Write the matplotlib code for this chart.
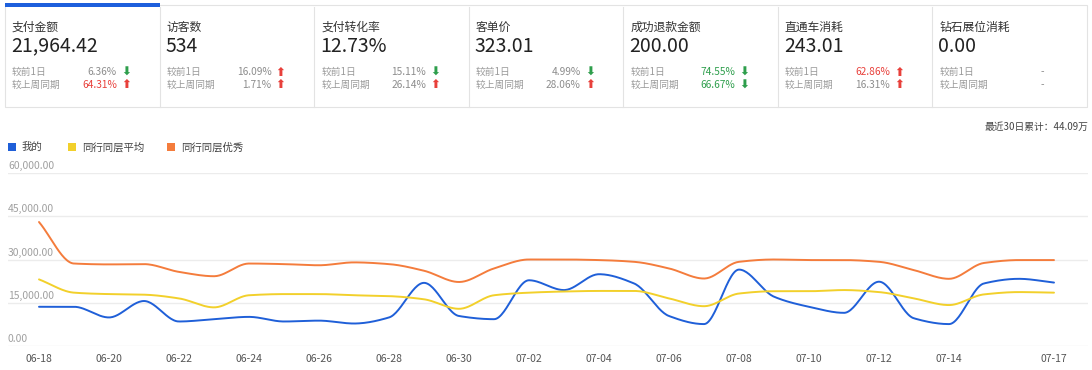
import numpy as np
import pandas as pd
import matplotlib
matplotlib.use('Agg')
import matplotlib.pyplot as plt
from matplotlib.patches import Rectangle
from matplotlib.lines import Line2D
from matplotlib.transforms import offset_copy

plt.rcParams['font.family'] = ['Noto Sans CJK SC', 'DejaVu Sans']

# ---- KPI cards ----
card_titles = ['支付金额', '访客数', '支付转化率', '客单价', '成功退款金额', '直通车消耗', '钻石展位消耗']
card_values = ['21,964.42', '534', '12.73%', '323.01', '200.00', '243.01', '0.00']
day_pct = ['6.36%', '16.09%', '15.11%', '4.99%', '74.55%', '62.86%', '-']
week_pct = ['64.31%', '1.71%', '26.14%', '28.06%', '66.67%', '16.31%', '-']
day_trend = [-1, 1, -1, -1, -1, 1, 0]
week_trend = [1, 1, 1, 1, -1, 1, 0]
day_hl = [False, False, False, False, True, True, False]
week_hl = [True, False, False, False, True, False, False]

# ---- trend chart (30 days from 06-18) ----
dates = pd.date_range('2019-06-18', periods=30).strftime('%m-%d').tolist()
mine = [13600, 13600, 9900, 15600, 8500, 9300, 10100, 8500, 8800, 7800,
        9900, 21900, 10400, 9300, 22800, 19400, 24900, 21700, 10400, 7600,
        26500, 17100, 13600, 11500, 22300, 9600, 7600, 21700, 23300, 22000]
peer_avg = [23100, 18500, 18000, 17800, 16500, 13400, 17600, 18000, 18000, 17600,
            17300, 16200, 12900, 17600, 18500, 18900, 19100, 19100, 16500, 13800,
            18200, 19000, 19000, 19400, 18700, 16500, 14200, 17900, 18700, 18500]
peer_best = [43000, 28600, 28300, 28400, 25700, 24200, 28600, 28400, 28000, 29000,
             28400, 26100, 22200, 26900, 30000, 30000, 29800, 29200, 26900, 23400,
             29200, 30000, 29800, 29800, 29200, 26300, 23300, 28800, 29800, 29800]
series_names = ['我的', '同行同层平均', '同行同层优秀']
series_colors = ['#1f5fd8', '#f2d02b', '#f47c3c']
tick_idx = [0, 2, 4, 6, 8, 10, 12, 14, 16, 18, 20, 22, 24, 26, 29]
yticks = [0, 15000, 30000, 45000, 60000]
total_text = '最近30日累计：44.09万'

W, H = 1092, 370
RED, GREEN, GRAY = '#e8403b', '#2e9e4c', '#8c8c8c'


def px(x, y):
    return x / W, 1 - y / H


def smooth(y, xs):
    # monotone cubic (pchip) so the curve looks like the echarts smooth line
    y = np.asarray(y, float)
    x = np.arange(len(y), dtype=float)
    d = np.diff(y)
    m = np.zeros_like(y)
    for k in range(1, len(y) - 1):
        if d[k - 1] * d[k] > 0:
            m[k] = 2.0 / (1.0 / d[k - 1] + 1.0 / d[k])
    m[0], m[-1] = d[0], d[-1]
    i = np.clip(np.floor(xs).astype(int), 0, len(y) - 2)
    t = xs - x[i]
    h00 = 2 * t**3 - 3 * t**2 + 1
    h10 = t**3 - 2 * t**2 + t
    h01 = -2 * t**3 + 3 * t**2
    h11 = t**3 - t**2
    return h00 * y[i] + h10 * m[i] + h01 * y[i + 1] + h11 * m[i + 1]


fig = plt.figure(figsize=(W / 100, H / 100), dpi=100)

# card strip
fig.add_artist(Rectangle(px(5, 107), 1082 / W, 102 / H, transform=fig.transFigure,
                         fill=False, ec='#e3e3e3', lw=0.8))
card_w = 1082 / 7
for i in range(1, 7):
    cx = 5 + i * card_w
    fig.add_artist(Line2D([cx / W, cx / W], [1 - 7 / H, 1 - 107 / H],
                          transform=fig.transFigure, color='#e3e3e3', lw=0.8))
fig.add_artist(Rectangle(px(5, 7), card_w / W, 4 / H, transform=fig.transFigure,
                         fc='#1d5fdc', ec='none'))

for i in range(7):
    cx = 5 + i * card_w
    fig.text(*px(cx + 7, 27), card_titles[i], fontsize=8.5, color='#333333', va='center')
    fig.text(*px(cx + 6, 46), card_values[i], fontsize=14, color='#222222', va='center')
    rows = [('较前1日', day_pct[i], day_trend[i], day_hl[i], 72),
            ('较上周同期', week_pct[i], week_trend[i], week_hl[i], 85)]
    for label, pct, trend, hl, y in rows:
        fig.text(*px(cx + 7, y), label, fontsize=7, color='#9a9a9a', va='center')
        tc = RED if trend > 0 else GREEN
        fig.text(*px(cx + 112, y), pct, fontsize=7.3, va='center', ha='right',
                 color=tc if hl else GRAY)
        if trend != 0:
            fig.text(*px(cx + 121, y), '⬆' if trend > 0 else '⬇', fontsize=8.5,
                     va='center', ha='center', color=tc, family='DejaVu Sans',
                     fontweight='bold')

# legend + total
leg_x = [8, 68, 167]
for name, color, lx in zip(series_names, series_colors, leg_x):
    fig.add_artist(Rectangle(px(lx, 151), 8 / W, 8 / H, transform=fig.transFigure,
                             fc=color, ec='none'))
    fig.text(*px(lx + 14, 147), name, fontsize=7.5, color='#444444', va='center')
fig.text(*px(1088, 127), total_text, fontsize=7, color='#444444', va='center', ha='right')

# chart
ax = fig.add_axes([8 / W, (H - 346) / H, 1080 / W, 173 / H])
days = np.arange(len(dates))
xs = np.linspace(0, len(dates) - 1, 800)
for vals, color in zip([mine, peer_avg, peer_best], series_colors):
    ax.plot(xs, smooth(vals, xs), color=color, lw=1.4, solid_capstyle='round')

ax.set_xlim(-31 / 35, 1049 / 35)
ax.set_ylim(0, 60000)
ax.set_yticks(yticks)
ax.yaxis.grid(True, color='#ececec', lw=1)
ax.set_axisbelow(True)
ax.tick_params(axis='y', length=0, labelleft=False)
ax.set_xticks(tick_idx)
ax.set_xticklabels([dates[k] for k in tick_idx])
ax.tick_params(axis='x', length=0, pad=6, labelsize=7.5, labelcolor='#555555')
for s in ax.spines.values():
    s.set_visible(False)

ylab_tr = offset_copy(ax.get_yaxis_transform(), fig=fig, x=0, y=7, units='dots')
for v in yticks:
    ax.text(0, v, f'{v:,.2f}', transform=ylab_tr, fontsize=7.5, color='#a0a0a0',
            ha='left', va='center')

fig.savefig('out.png', dpi=100, facecolor='white')
